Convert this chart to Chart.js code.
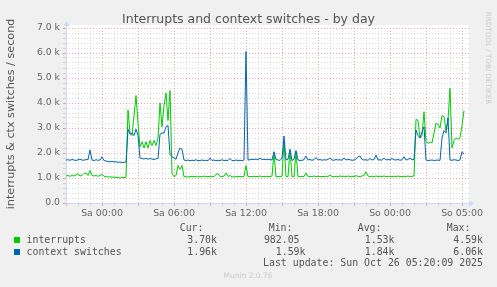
<!DOCTYPE html>
<html>
<head>
<meta charset="utf-8">
<script src="https://cdn.jsdelivr.net/npm/chart.js@4.4.0/dist/chart.umd.min.js"></script>
<style>
body { margin: 0; background: #f0f0f0; }
canvas { display: block; }
</style>
</head>
<body>
<canvas id="irq" width="497" height="287"></canvas>
<script>
"use strict";
// one sample every 10 minutes, first one Fr 21:00 (x is in 5 minute steps)
const interrupts = [
    1080, 1100, 1070, 1100, 1080, 1120, 1170, 1080, 1100, 1180,
    1200, 1100, 1300, 1100, 1080, 1100, 1070, 1100, 1150, 1070,
    1050, 1040, 1050, 1030, 1040, 1020, 1030, 985, 1030, 1020,
    1030, 3720, 2800, 2700, 3500, 4300, 3200, 2250, 2450, 2200,
    2450, 2200, 2500, 2300, 2500, 2300, 2600, 4000, 3050, 3900,
    4400, 3300, 4500, 1200, 1050, 1100, 1500, 1350, 1500, 1050,
    1050, 1040, 1060, 1050, 1070, 1050, 1040, 1060, 1050, 1080,
    1050, 1060, 1050, 1070, 1050, 1150, 1170, 1060, 1050, 1080,
    1200, 1060, 1100, 1050, 1040, 1060, 1050, 1070, 1050, 1060,
    1500, 1050, 1060, 1050, 1070, 1060, 1050, 1080, 1060, 1050,
    1070, 1060, 1050, 1080, 2000, 1050, 1060, 1050, 1070, 2450,
    1060, 1050, 2100, 1060, 1050, 2050, 1060, 1050, 1070, 1060,
    1200, 1060, 1070, 1060, 1080, 1060, 1070, 1050, 1060, 1060,
    1070, 1060, 1120, 1060, 1050, 1070, 1060, 1080, 1060, 1070,
    1060, 1080, 1060, 1070, 1060, 1090, 1070, 1060, 1080, 1100,
    1250, 1080, 1060, 1070, 1060, 1080, 1060, 1070, 1060, 1080,
    1060, 1070, 1050, 1060, 1070, 1060, 1080, 1060, 1050, 1070,
    1060, 1080, 1060, 1070, 1080, 3350, 3300, 2600, 2700, 3650,
    2500, 2380, 2450, 2400, 2800, 3200, 3150, 3000, 3500, 3450,
    2900, 3300, 4590, 2200, 2500, 2600, 2550, 2600, 3100, 3700
];
const ctxSwitches = [
    1720, 1730, 1710, 1740, 1720, 1700, 1730, 1750, 1720, 1710,
    1740, 1730, 2120, 1720, 1700, 1730, 1710, 1720, 1850, 1700,
    1680, 1660, 1650, 1670, 1640, 1650, 1630, 1640, 1620, 1630,
    1640, 2950, 2750, 2800, 2700, 2950, 2700, 1800, 1780, 1760,
    1790, 1750, 1780, 1760, 1740, 1770, 1780, 2750, 2800, 2800,
    3050, 3100, 1950, 1850, 1800, 1750, 2000, 2200, 2150, 1720,
    1700, 1720, 1690, 1710, 1700, 1730, 1690, 1700, 1720, 1700,
    1710, 1690, 1800, 1700, 1720, 1690, 1710, 1700, 1730, 1700,
    1710, 1700, 1780, 1690, 1700, 1720, 1700, 1710, 1690, 1720,
    6060, 1720, 1730, 1750, 1740, 1760, 1730, 1800, 1740, 1750,
    1730, 1750, 1740, 1720, 2050, 1740, 1720, 1700, 1800, 2680,
    1720, 1750, 2150, 1700, 1750, 2100, 1720, 1700, 1710, 1730,
    1880, 1720, 1740, 1710, 1730, 1820, 1720, 1740, 1710, 1730,
    1720, 1740, 1800, 1720, 1710, 1740, 1720, 1730, 1710, 1800,
    1720, 1740, 1730, 1710, 1720, 1760, 1850, 1880, 1740, 1720,
    1730, 1710, 1780, 1720, 1740, 1920, 1720, 1730, 1710, 1800,
    1720, 1740, 1720, 1780, 1730, 1720, 1740, 1710, 1730, 1850,
    1720, 1740, 1800, 1720, 1750, 2920, 2700, 2600, 2850, 3050,
    1720, 1700, 1710, 1720, 1700, 1710, 1720, 1700, 2600, 2900,
    2800, 3400, 1720, 1710, 1730, 1720, 1700, 1720, 2050, 1960
];

const labelPos = [36, 108, 180, 252, 324, 396];
const labelText = ["Sa 00:00", "Sa 06:00", "Sa 12:00", "Sa 18:00", "So 00:00", "So 05:00"];

const seriesNames = ["interrupts", "context switches"];
const seriesColors = ["#00cc00", "#0066b3"];
const curVals = ["3.70k", "1.96k"];
const minVals = ["982.05 ", "1.59k"];
const avgVals = ["1.53k", "1.84k"];
const maxVals = ["4.59k", "6.06k"];

const xTicks = [];
for (let h = 0; h <= 33; h++) xTicks.push(h * 12);
const yTicks = [];
for (let v = 0; v <= 7000; v += 200) yTicks.push(v);

function toPoints(arr) {
    return arr.map((v, i) => ({ x: i * 2, y: v }));
}

const MAJOR = "rgba(222,79,79,0.5)";
const MINOR = "rgba(160,160,160,0.4)";

const muninFrame = {
    id: "muninFrame",
    beforeDraw(chart) {
        const c = chart.ctx, a = chart.chartArea;
        c.save();
        c.fillStyle = "#f0f0f0";
        c.fillRect(0, 0, chart.width, chart.height);
        c.fillStyle = "#ffffff";
        c.fillRect(a.left, a.top - 3, a.right - a.left, a.bottom - a.top + 3);
        c.restore();
    },
    beforeDatasetsDraw(chart) {
        const c = chart.ctx, a = chart.chartArea;
        c.save();
        c.strokeStyle = "#cfd6f8";
        c.lineWidth = 1;
        c.beginPath();
        c.moveTo(a.left + 0.5, a.bottom);
        c.lineTo(a.left + 0.5, a.top - 4);
        c.moveTo(a.left, a.bottom + 0.5);
        c.lineTo(a.right + 2, a.bottom + 0.5);
        c.stroke();
        c.fillStyle = "#cfd6f8";
        c.beginPath();
        c.moveTo(a.left + 0.5, a.top - 7);
        c.lineTo(a.left - 2.5, a.top - 2);
        c.lineTo(a.left + 3.5, a.top - 2);
        c.fill();
        c.beginPath();
        c.moveTo(a.right + 5, a.bottom + 0.5);
        c.lineTo(a.right, a.bottom - 2.5);
        c.lineTo(a.right, a.bottom + 3.5);
        c.fill();
        c.restore();
    },
    afterDraw(chart) {
        const c = chart.ctx;
        c.save();
        c.textBaseline = "middle";
        c.fillStyle = "#555";
        c.textAlign = "center";
        c.font = '12.5px "DejaVu Sans"';
        c.fillText("Interrupts and context switches - by day", 248.5, 19.5);

        c.save();
        c.translate(11, 114);
        c.rotate(-Math.PI / 2);
        c.font = '11.2px "DejaVu Sans"';
        c.fillStyle = "#555";
        c.fillText("interrupts & ctx switches / second", 0, 0);
        c.restore();

        c.save();
        c.translate(487.5, 58);
        c.rotate(Math.PI / 2);
        c.font = '7.2px "DejaVu Sans"';
        c.fillStyle = "#cccccc";
        c.fillText("RRDTOOL / TOBI OETIKER", 0, 0);
        c.restore();

        c.font = '9.9px "DejaVu Sans Mono"';
        c.fillStyle = "#555";
        c.textAlign = "right";
        c.fillText("Cur:", 203.5, 228.5);
        c.fillText("Min:", 292.5, 228.5);
        c.fillText("Avg:", 381.5, 228.5);
        c.fillText("Max:", 470.5, 228.5);
        for (let i = 0; i < seriesNames.length; i++) {
            const y = 240 + i * 12;
            c.fillStyle = seriesColors[i];
            c.fillRect(14, y - 3, 6, 6);
            c.fillStyle = "#555";
            c.textAlign = "left";
            c.fillText(seriesNames[i], 26.5, y);
            c.textAlign = "right";
            c.fillText(curVals[i], 217, y);
            c.fillText(minVals[i], 305.5, y);
            c.fillText(avgVals[i], 394.5, y);
            c.fillText(maxVals[i], 483, y);
        }
        c.fillText("Last update: Sun Oct 26 05:20:09 2025", 483, 263.5);

        c.textAlign = "center";
        c.font = '7.5px "DejaVu Sans"';
        c.fillStyle = "#cccccc";
        c.fillText("Munin 2.0.76", 248, 276.5);
        c.restore();
    }
};

const chart = new Chart(document.getElementById("irq"), {
    type: "line",
    data: {
        datasets: [{
            label: "context switches",
            data: toPoints(ctxSwitches),
            borderColor: seriesColors[1],
            order: 0
        }, {
            label: "interrupts",
            data: toPoints(interrupts),
            borderColor: seriesColors[0],
            order: 1
        }]
    },
    options: {
        responsive: false,
        animation: false,
        layout: { padding: { left: 0, right: 28, top: 28, bottom: 0 } },
        elements: {
            point: { radius: 0 },
            line: { borderWidth: 1, tension: 0 }
        },
        plugins: {
            legend: { display: false },
            tooltip: { enabled: false }
        },
        scales: {
            x: {
                type: "linear",
                min: 0,
                max: 403,
                afterBuildTicks: (s) => { s.ticks = xTicks.map(v => ({ value: v })); },
                afterFit: (s) => { s.height = 84; s.paddingLeft = 0; s.paddingRight = 0; },
                ticks: {
                    autoSkip: false,
                    maxRotation: 0,
                    padding: 2,
                    color: "#666",
                    font: { family: "DejaVu Sans", size: 9.4 },
                    callback: (v) => {
                        const k = labelPos.indexOf(v);
                        return k < 0 ? "" : labelText[k];
                    }
                },
                grid: {
                    color: (ctx) => (ctx.tick && ctx.tick.value % 36 === 0) ? MAJOR : MINOR,
                    tickColor: (ctx) => (ctx.tick && ctx.tick.value % 36 === 0) ? MAJOR : MINOR,
                    tickLength: 3
                },
                border: { display: false, dash: [1, 2] }
            },
            y: {
                min: 0,
                max: 7000,
                afterBuildTicks: (s) => { s.ticks = yTicks.map(v => ({ value: v })); },
                afterFit: (s) => { s.width = 66; s.paddingTop = 0; s.paddingBottom = 0; },
                ticks: {
                    autoSkip: false,
                    padding: 3,
                    color: "#666",
                    font: { family: "DejaVu Sans", size: 9.3 },
                    callback: (v) => {
                        if (v % 1000 !== 0) return "";
                        return v === 0 ? "0.0" : (v / 1000).toFixed(1) + " k";
                    }
                },
                grid: {
                    color: (ctx) => (ctx.tick && ctx.tick.value % 1000 === 0) ? MAJOR : MINOR,
                    tickColor: (ctx) => (ctx.tick && ctx.tick.value % 1000 === 0) ? MAJOR : MINOR,
                    tickLength: 3
                },
                border: { display: false, dash: [1, 2] }
            }
        }
    },
    plugins: [muninFrame]
});
</script>
</body>
</html>
